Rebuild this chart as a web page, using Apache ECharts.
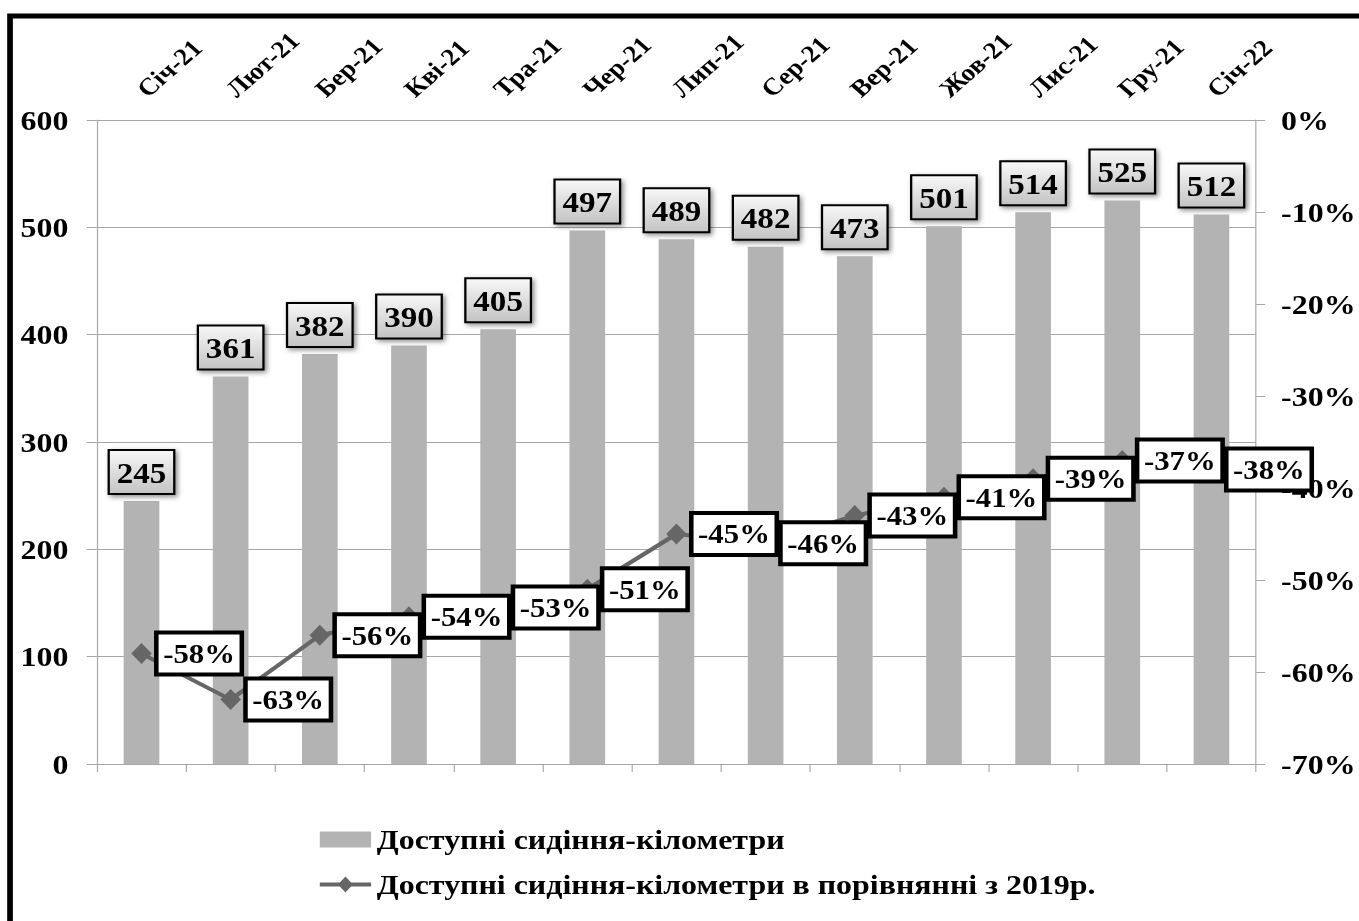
<!DOCTYPE html>
<html>
<head>
<meta charset="utf-8">
<script src="https://cdn.jsdelivr.net/npm/echarts@6/dist/echarts.min.js"></script>
<style>
  html, body { margin: 0; padding: 0; background: #fff; overflow: hidden; }
  /* The chart is laid out on a narrower canvas and widened horizontally */
  #chart { width: 1192px; height: 921px; transform: scaleX(1.1401); transform-origin: 0 0; }
</style>
</head>
<body>
<div id="chart"></div>
<script>
// Months (Ukrainian abbreviations)
const months = ['Січ-21', 'Лют-21', 'Бер-21', 'Кві-21', 'Тра-21', 'Чер-21', 'Лип-21',
                'Сер-21', 'Вер-21', 'Жов-21', 'Лис-21', 'Гру-21', 'Січ-22'];
// Available seat-kilometres
const seatKm = [245, 361, 382, 390, 405, 497, 489, 482, 473, 501, 514, 525, 512];
// Change versus 2019, percent
const vs2019 = [-58, -63, -56, -54, -53, -51, -45, -46, -43, -41, -39, -37, -38];

const barName = 'Доступні сидіння-кілометри';
const lineName = 'Доступні сидіння-кілометри в порівнянні з 2019р.';

const serif = '"Liberation Serif", "Times New Roman", serif';
const gridGray = '#a6a6a6';
const barGray = '#b3b3b3';
const lineGray = '#666666';

// Legend glyph for the line series: a thick stroke with a diamond in the middle
const lineLegendIcon = 'path://M0,6H17.55L22.5,0L27.45,6H45V10H27.45L22.5,16L17.55,10H0Z';

const chart = echarts.init(document.getElementById('chart'), null, { renderer: 'svg' });
chart.setOption({
  backgroundColor: '#fff',
  animation: false,
  textStyle: { fontFamily: serif },
  graphic: [{
    type: 'rect',
    shape: { x: 8.8, y: 16, width: 1300, height: 1000 },
    style: { fill: 'none', stroke: '#000', lineWidth: 5 },
    z: 100
  }],
  grid: { left: 85, right: 88.6, top: 120, bottom: 157 },
  legend: {
    orient: 'vertical',
    left: 275.5,
    top: 819,
    itemWidth: 45,
    itemHeight: 16,
    itemGap: 14,
    data: [
      { name: barName, icon: 'rect' },
      { name: lineName, icon: lineLegendIcon }
    ],
    textStyle: { fontFamily: serif, fontWeight: 'bold', fontSize: 28, color: '#000', lineHeight: 31 }
  },
  xAxis: [{
    type: 'category',
    data: months,
    position: 'bottom',
    boundaryGap: true,
    axisLine: { lineStyle: { color: gridGray, width: 1 } },
    axisTick: { show: true, length: 8, lineStyle: { color: gridGray } },
    axisLabel: { show: false }
  }, {
    type: 'category',
    data: months,
    position: 'top',
    boundaryGap: true,
    axisLine: { show: false },
    axisTick: { show: false },
    axisLabel: {
      rotate: 45, margin: 27,
      fontFamily: serif, fontWeight: 'bold', fontSize: 24, color: '#000'
    }
  }],
  yAxis: [{
    type: 'value',
    min: 0, max: 600, interval: 100,
    position: 'left',
    axisLine: { show: true, lineStyle: { color: gridGray } },
    axisTick: { show: true, length: 9, lineStyle: { color: gridGray } },
    splitLine: { show: true, lineStyle: { color: gridGray, width: 1 } },
    axisLabel: { margin: 25, fontFamily: serif, fontWeight: 'bold', fontSize: 28, color: '#000' }
  }, {
    type: 'value',
    min: -70, max: 0, interval: 10,
    position: 'right',
    axisLine: { show: true, lineStyle: { color: gridGray } },
    axisTick: { show: true, length: 8, lineStyle: { color: gridGray } },
    splitLine: { show: false },
    axisLabel: {
      margin: 22, formatter: '{value}%',
      fontFamily: serif, fontWeight: 'bold', fontSize: 28, color: '#000'
    }
  }],
  series: [{
    name: barName,
    type: 'bar',
    data: seatKm,
    xAxisIndex: 0,
    yAxisIndex: 0,
    barWidth: '40%',
    itemStyle: { color: barGray },
    label: {
      show: true,
      position: 'top',
      distance: 8,
      fontFamily: serif, fontWeight: 'bold', fontSize: 29, color: '#000',
      lineHeight: 30,
      padding: [7, 6, 5, 6],
      borderColor: '#000', borderWidth: 2,
      backgroundColor: {
        type: 'linear', x: 0, y: 0, x2: 0, y2: 1,
        colorStops: [{ offset: 0, color: '#f7f7f7' }, { offset: 1, color: '#c4c4c4' }]
      },
      shadowColor: 'rgba(0,0,0,0.45)', shadowBlur: 5, shadowOffsetX: 2, shadowOffsetY: 2
    },
    z: 2
  }, {
    name: lineName,
    type: 'line',
    data: vs2019,
    xAxisIndex: 0,
    yAxisIndex: 1,
    symbol: 'diamond',
    symbolSize: [18, 21],
    lineStyle: { color: lineGray, width: 4 },
    itemStyle: { color: lineGray },
    label: {
      show: true,
      position: 'right',
      distance: 6,
      formatter: '{c}%',
      fontFamily: serif, fontWeight: 'bold', fontSize: 27, color: '#000',
      lineHeight: 28,
      padding: [6, 4, 4, 4],
      backgroundColor: '#fff',
      borderColor: '#000', borderWidth: 4
    },
    z: 5
  }]
});
</script>
</body>
</html>
